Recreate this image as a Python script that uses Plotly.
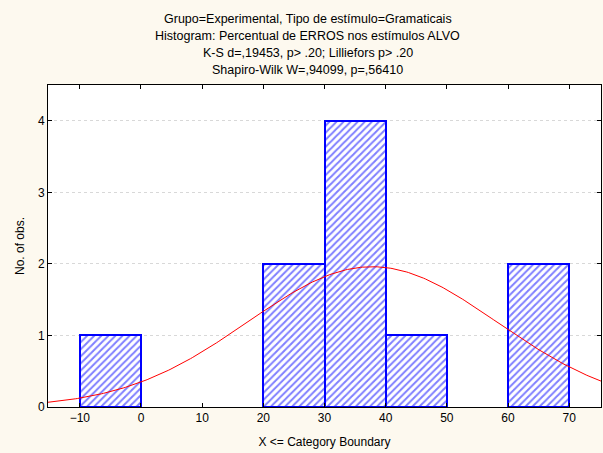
import numpy as np
import plotly.graph_objects as go

# Histogram of error percentages (bin upper boundaries and counts)
bin_upper = [0, 10, 20, 30, 40, 50, 60, 70]
counts = [1, 0, 0, 2, 4, 1, 0, 2]
bin_width = 10

# Fitted normal curve parameters
fit_mean = 37.8
fit_sd = 20.35
n_obs = sum(counts)

x_range = [-15.2, 75.2]
y_range = [0, 4.5]
x_ticks = [-10, 0, 10, 20, 30, 40, 50, 60, 70]
y_ticks = [0, 1, 2, 3, 4]

title_lines = [
    "Grupo=Experimental, Tipo de estímulo=Gramaticais",
    "Histogram: Percentual de ERROS nos estímulos ALVO",
    "K-S d=,19453, p> .20; Lilliefors p> .20",
    "Shapiro-Wilk W=,94099, p=,56410",
]

centers = [u - bin_width / 2 for u, c in zip(bin_upper, counts) if c > 0]
heights = [c for c in counts if c > 0]

fig = go.Figure()
fig.add_trace(go.Bar(
    x=centers, y=heights, width=bin_width,
    marker=dict(
        color="white",
        line=dict(color="#0000FF", width=2),
        pattern=dict(shape="/", fgcolor="#0000FF", bgcolor="white",
                     size=5, solidity=0.4),
    ),
    showlegend=False, hoverinfo="skip",
))

xs = np.linspace(x_range[0], x_range[1], 300)
ys = n_obs * bin_width / (fit_sd * np.sqrt(2 * np.pi)) * np.exp(-(xs - fit_mean) ** 2 / (2 * fit_sd ** 2))
fig.add_trace(go.Scatter(x=xs, y=ys, mode="lines",
                         line=dict(color="#FF0000", width=1),
                         showlegend=False, hoverinfo="skip"))

font = dict(family="Liberation Sans, Arial, sans-serif", size=12, color="#000000")
title_font = dict(family="Liberation Sans, Arial, sans-serif", size=12.5, color="#000000")

for i, t in enumerate(title_lines):
    fig.add_annotation(text=t, xref="paper", yref="paper",
                       x=0.47, y=1 + (66 - 17 * i) / 322, xanchor="center",
                       yanchor="middle", showarrow=False, font=title_font)

fig.update_layout(
    width=603, height=453,
    margin=dict(l=48, r=2, t=85, b=46),
    paper_bgcolor="#FDF9EF",
    plot_bgcolor="white",
    font=font,
    bargap=0,
)
fig.update_xaxes(
    range=x_range, tickvals=x_ticks, ticks="inside", ticklen=4,
    tickcolor="black", mirror="ticks", showline=True, linecolor="black",
    linewidth=1, showgrid=False, zeroline=False,
    title=dict(text="X <= Category Boundary", standoff=13, font=font),
    tickfont=font,
)
fig.update_yaxes(
    range=y_range, tickvals=y_ticks, ticks="inside", ticklen=4,
    tickcolor="black", mirror="ticks", showline=True, linecolor="black",
    linewidth=1, showgrid=True, gridcolor="#D8D8D8", griddash="dot",
    gridwidth=1, zeroline=False,
    title=dict(text="No. of obs.", standoff=10, font=font),
    tickfont=font,
)

fig.write_html("out.html")
